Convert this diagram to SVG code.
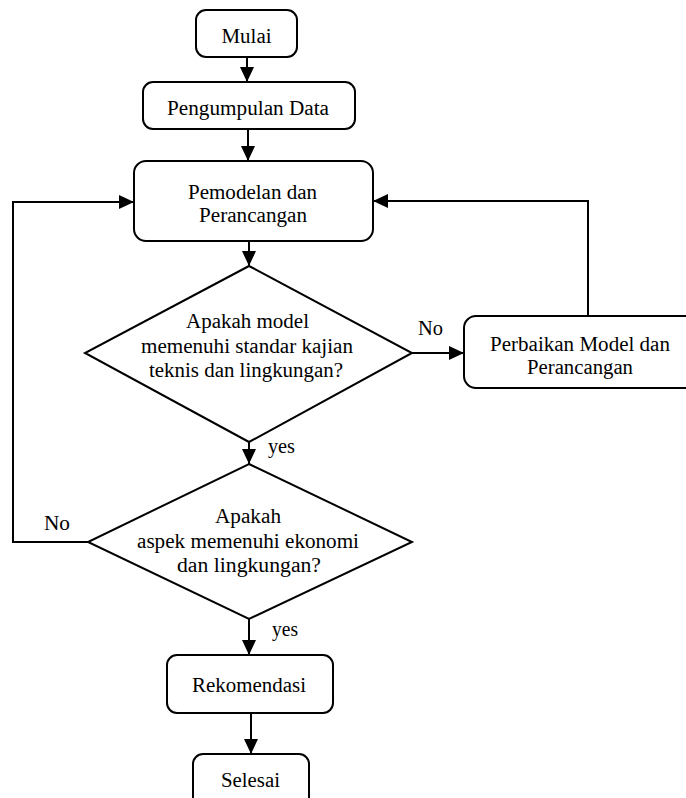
<svg xmlns="http://www.w3.org/2000/svg" width="686" height="798" viewBox="0 0 686 798">
<style>
.box{fill:#fff;stroke:#000;stroke-width:2}
.t{text-anchor:middle}
.c{fill:none;stroke:#000;stroke-width:2}
</style>
<defs>
<marker id="ah" markerUnits="userSpaceOnUse" markerWidth="15" markerHeight="14" refX="15" refY="7" orient="auto">
<path d="M0,0 L15,7 L0,14 z" fill="#000"/>
</marker>
</defs>
<rect width="686" height="798" fill="#fff"/>
<g font-family="Liberation Serif, DejaVu Serif, serif" font-size="20" fill="#000">
<g id="connectors">
<path class="c" d="M247,57 V82" marker-end="url(#ah)"/>
<path class="c" d="M248,129 V161" marker-end="url(#ah)"/>
<path class="c" d="M249,241 V266" marker-end="url(#ah)"/>
<path class="c" d="M412,353 H464" marker-end="url(#ah)"/>
<path class="c" d="M588,316 V201 H373" marker-end="url(#ah)"/>
<path class="c" d="M249,442 V464" marker-end="url(#ah)"/>
<path class="c" d="M88,542 H13 V202 H134" marker-end="url(#ah)"/>
<path class="c" d="M249,619 V655" marker-end="url(#ah)"/>
<path class="c" d="M251,713 V754" marker-end="url(#ah)"/>
<text x="418" y="335" textLength="25" lengthAdjust="spacingAndGlyphs">No</text>
<text x="268" y="453" textLength="27" lengthAdjust="spacingAndGlyphs">yes</text>
<text x="44" y="530" textLength="26" lengthAdjust="spacingAndGlyphs">No</text>
<text x="272" y="636" textLength="26" lengthAdjust="spacingAndGlyphs">yes</text>
</g>
<g id="mulai">
<rect class="box" x="196" y="10" width="101" height="47" rx="10"/>
<text class="t" x="246.5" y="43" textLength="50" lengthAdjust="spacingAndGlyphs">Mulai</text>
</g>
<g id="pengumpulan">
<rect class="box" x="143" y="82" width="212" height="47" rx="10"/>
<text class="t" x="248" y="115" textLength="162" lengthAdjust="spacingAndGlyphs">Pengumpulan Data</text>
</g>
<g id="pemodelan">
<rect class="box" x="134" y="161" width="239" height="80" rx="12"/>
<text class="t" x="252.5" y="199" textLength="129" lengthAdjust="spacingAndGlyphs">Pemodelan dan</text>
<text class="t" x="253" y="222" textLength="108" lengthAdjust="spacingAndGlyphs">Perancangan</text>
</g>
<g id="keputusan1">
<polygon class="box" points="249,266 412,353 249,442 85,353"/>
<text class="t" x="247.5" y="328" textLength="123" lengthAdjust="spacingAndGlyphs">Apakah model</text>
<text class="t" x="247" y="353" textLength="212" lengthAdjust="spacingAndGlyphs">memenuhi standar kajian</text>
<text class="t" x="246" y="377" textLength="194" lengthAdjust="spacingAndGlyphs">teknis dan lingkungan?</text>
</g>
<g id="perbaikan">
<rect class="box" x="464" y="316" width="240" height="72" rx="12"/>
<text class="t" x="580" y="351" textLength="180" lengthAdjust="spacingAndGlyphs">Perbaikan Model dan</text>
<text class="t" x="580" y="374" textLength="106" lengthAdjust="spacingAndGlyphs">Perancangan</text>
</g>
<g id="keputusan2">
<polygon class="box" points="249,464 412,542 249,619 88,542"/>
<text class="t" x="248" y="523" textLength="66" lengthAdjust="spacingAndGlyphs">Apakah</text>
<text class="t" x="248" y="548" textLength="222" lengthAdjust="spacingAndGlyphs">aspek memenuhi ekonomi</text>
<text class="t" x="249" y="572" textLength="144" lengthAdjust="spacingAndGlyphs">dan lingkungan?</text>
</g>
<g id="rekomendasi">
<rect class="box" x="167" y="655" width="166" height="58" rx="10"/>
<text class="t" x="249" y="692" textLength="114" lengthAdjust="spacingAndGlyphs">Rekomendasi</text>
</g>
<g id="selesai">
<rect class="box" x="193" y="754" width="116" height="60" rx="10"/>
<text class="t" x="250.5" y="787" textLength="59" lengthAdjust="spacingAndGlyphs">Selesai</text>
</g>
</g>
</svg>
